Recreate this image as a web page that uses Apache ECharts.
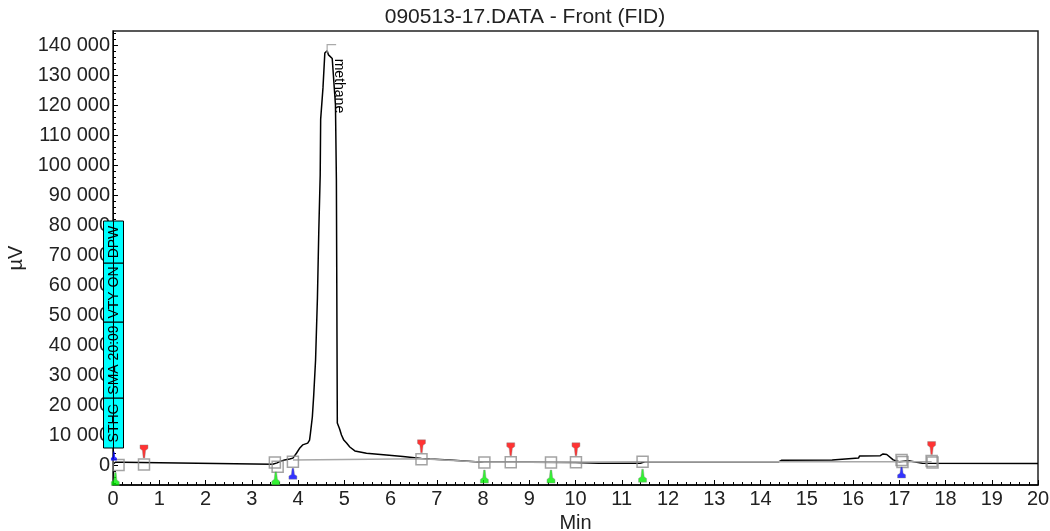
<!DOCTYPE html>
<html><head><meta charset="utf-8">
<script src="https://cdn.jsdelivr.net/npm/echarts@6/dist/echarts.min.js"></script>
<style>html,body{margin:0;padding:0;background:#fff}#c{width:1050px;height:531px}</style>
</head><body><div id="c"></div>
<script>
// ---- data ----
const titleText = '090513-17.DATA - Front (FID)';
const xName = 'Min';
const yName = 'µV';
const peakName = 'methane';
const peakApex = [4.63, 138100];
const eventCodes = ['STHG', 'SMA 20:09', 'VTY ON', 'DPW'];
const yTickValues = [0, 10000, 20000, 30000, 40000, 50000, 60000, 70000, 80000, 90000, 100000, 110000, 120000, 130000, 140000];
const xMin = 0, xMax = 20, yMin = -6667, yMax = 144667;

const times = [
  0, 0.05, 0.20, 0.22, 3.45, 3.55, 3.60, 3.71, 3.82, 3.89,
  3.97, 4.04, 4.10, 4.21, 4.25, 4.27, 4.31, 4.34, 4.38, 4.42,
  4.45, 4.48, 4.49, 4.54, 4.58, 4.63, 4.66, 4.74, 4.81, 4.83,
  4.85, 4.90, 4.94, 4.99, 5.05, 5.12, 5.23, 5.48, 5.91, 6.27,
  6.67, 6.85, 7.28, 7.30, 8.00, 9.00, 10.00, 10.50, 11.40, 11.50,
  13.00, 14.40, 14.46, 15.55, 15.56, 16.12, 16.14, 16.59, 16.65, 16.73,
  16.87, 17.00, 17.20, 17.50, 20.00
];
const signal = [
  250, 900, 900, 250, 250, 700, 1100, 1700, 2000, 2300,
  4000, 5700, 6700, 7300, 8300, 10700, 16000, 23300, 35000, 55700,
  78300, 96700, 115300, 125700, 137300, 138100, 136700, 135500, 120000, 95000,
  14000, 12000, 10000, 8300, 7300, 6000, 4700, 3900, 3300, 2800,
  2200, 2000, 1700, 1100, 900, 900, 800, 600, 600, 1100,
  1100, 1100, 1600, 1700, 2200, 2300, 3000, 3100, 3700, 3500,
  1700, 1100, 1400, 600, 500
];
const baseTimes  = [3.89, 6.67, 8.03, 9.47, 11.45, 17.05, 17.70];
const baseValues = [1700, 2100, 900, 900, 1100, 1100, 1100];

const squareTimes  = [0.12, 0.67, 3.50, 3.56, 3.89, 6.67, 8.03, 8.60, 9.47, 10.01, 11.45, 17.05, 17.07, 17.70, 17.72];
const squareValues = [0, 200, 800, -600, 1100, 1900, 800, 900, 800, 900, 1100, 1700, 1000, 1300, 800];

const redTimes   = [0.67, 6.67, 8.60, 10.01, 17.70];
const redValues  = [200, 1900, 900, 900, 1300];
const greenTimes  = [0.05, 3.52, 8.03, 9.47, 11.45];
const greenValues = [0, 200, 800, 800, 1100];
const blueAboveTimes = [0.02];
const blueAboveValues = [0];
const blueBelowTimes = [3.89, 17.05];
const blueBelowValues = [1100, 1500];

// ---- build ----
const pair = (ts, vs) => ts.map((t, i) => [t, vs[i]]);
const fmt = v => String(Math.round(v)).replace(/\B(?=(\d{3})+(?!\d))/g, ' ');
const minorY = [];
for (let v = -6000; v <= yMax; v += 2000) minorY.push(v);

const FONT = 'Liberation Sans, Arial, sans-serif';
const pinDown = 'path://M0,0 L10,0 L10,4 L7,6 L6,14 L4,14 L3,6 L0,4 Z';
const pinUp = 'path://M4,0 L6,0 L7,8 L10,10 L10,14 L0,14 L0,10 L3,8 Z';

const chart = echarts.init(document.getElementById('c'), null, {renderer: 'canvas'});

const option = {
  animation: false,
  backgroundColor: '#fff',
  title: {
    text: titleText, left: 'center', top: 2,
    textStyle: {fontFamily: FONT, fontSize: 21, fontWeight: 'normal', color: '#222'}
  },
  grid: {left: 113, right: 12, top: 31, bottom: 46, outerBoundsMode: 'none', containLabel: false,
    show: true, borderColor: '#222', borderWidth: 1.5, backgroundColor: 'transparent'},
  xAxis: {
    type: 'value', min: xMin, max: xMax, interval: 1,
    name: xName, nameLocation: 'middle', nameGap: 25,
    nameTextStyle: {fontFamily: FONT, fontSize: 20, color: '#222'},
    axisLine: {show: true, onZero: false, lineStyle: {color: '#000', width: 1.5}},
    axisTick: {show: true, inside: true, length: 5, lineStyle: {color: '#000'}},
    minorTick: {show: true, splitNumber: 5, length: 3, lineStyle: {color: '#000'}},
    axisLabel: {fontFamily: FONT, fontSize: 20, color: '#222', margin: 4},
    splitLine: {show: false}
  },
  yAxis: [{
    type: 'value', min: yMin, max: yMax,
    name: yName, nameLocation: 'middle', nameGap: 80, nameRotate: 90,
    nameTextStyle: {fontFamily: FONT, fontSize: 20, color: '#222'},
    axisLine: {show: true, onZero: false, lineStyle: {color: '#000', width: 1}},
    axisTick: {show: true, inside: true, length: 5, customValues: yTickValues, lineStyle: {color: '#000'}},
    axisLabel: {fontFamily: FONT, fontSize: 20, color: '#222', margin: 3, customValues: yTickValues, formatter: fmt},
    splitLine: {show: false}
  }, {
    type: 'value', min: yMin, max: yMax, position: 'left', offset: 0,
    axisLine: {show: false},
    axisTick: {show: true, inside: true, length: 3, customValues: minorY, lineStyle: {color: '#000'}},
    axisLabel: {show: false},
    splitLine: {show: false}
  }],
  series: [
    {
      type: 'line', name: 'signal', data: pair(times, signal), showSymbol: false, symbol: 'none',
      lineStyle: {color: '#000', width: 1.5}, z: 2
    },
    {
      type: 'line', name: 'baseline', data: pair(baseTimes, baseValues), showSymbol: false, symbol: 'none',
      lineStyle: {color: '#a8a8a8', width: 1.5}, z: 3
    },
    {
      type: 'scatter', name: 'marks', data: pair(squareTimes, squareValues), symbol: 'rect', symbolSize: 11,
      itemStyle: {color: 'rgba(0,0,0,0)', borderColor: '#8c8c8c', borderWidth: 1.5}, z: 4
    },
    {
      type: 'scatter', name: 'end', data: pair(redTimes, redValues), symbol: pinDown, symbolSize: [8, 13],
      symbolOffset: [0, -13], itemStyle: {color: '#ff0000', borderColor: '#888', borderWidth: 0.5}, z: 5
    },
    {
      type: 'scatter', name: 'start', data: pair(greenTimes, greenValues), symbol: pinUp, symbolSize: [8, 13],
      symbolOffset: [0, 14], itemStyle: {color: '#00ee00', borderColor: '#888', borderWidth: 0.5}, z: 5
    },
    {
      type: 'scatter', name: 'evA', data: pair(blueAboveTimes, blueAboveValues), symbol: pinUp, symbolSize: [6, 9],
      symbolOffset: [0, -9], itemStyle: {color: '#0000ff'}, z: 12
    },
    {
      type: 'scatter', name: 'evB', data: pair(blueBelowTimes, blueBelowValues), symbol: pinUp, symbolSize: [8, 11],
      symbolOffset: [0, 12], itemStyle: {color: '#0000ff', borderColor: '#888', borderWidth: 0.5}, z: 5
    }
  ]
};
chart.setOption(option);

// event-code box (drawn over the axis labels), with the y axis line crossing it
const boxL = 103.5, boxW = 20;
const segs = [[398, 448], [322, 398], [263, 322], [221, 263]];
const graphics = [];
segs.forEach((s, i) => {
  graphics.push({type: 'rect', z: 10, shape: {x: boxL, y: s[0], width: boxW, height: s[1] - s[0]},
    style: {fill: '#00ffff', stroke: '#000', lineWidth: 1}});
  graphics.push({type: 'text', z: 11, x: boxL + boxW / 2 + 1, y: (s[0] + s[1]) / 2, rotation: Math.PI / 2,
    style: {text: eventCodes[i], fontFamily: FONT, fontSize: 14, fill: '#000', align: 'center', verticalAlign: 'middle'}});
});
graphics.push({type: 'line', z: 12, shape: {x1: 113.5, y1: 221, x2: 113.5, y2: 448}, style: {stroke: '#000', lineWidth: 1}});

// peak annotation positioned through the chart's scales
const ap = chart.convertToPixel({gridIndex: 0}, peakApex);
graphics.push({type: 'polyline', z: 6, shape: {points: [[ap[0], ap[1] + 2], [ap[0], ap[1] - 6], [ap[0] + 9, ap[1] - 6]]},
  style: {stroke: '#aaa', lineWidth: 1.2, fill: null}});
graphics.push({type: 'text', z: 6, x: ap[0] + 12, y: ap[1] + 8, rotation: -Math.PI / 2,
  style: {text: peakName, fontFamily: FONT, fontSize: 14, fill: '#000', align: 'left', verticalAlign: 'middle'}});

chart.setOption({graphic: graphics});
</script>
</body></html>
